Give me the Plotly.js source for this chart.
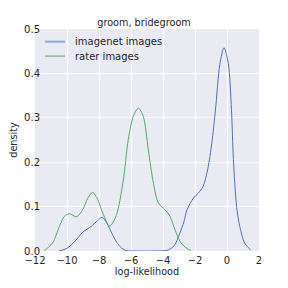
<!DOCTYPE html>
<html><head><meta charset="utf-8">
<script src="https://cdn.plot.ly/plotly-3.0.1.min.js"></script>
<style>html,body{margin:0;padding:0;background:#fff}#chart{width:288px;height:288px}</style>
</head><body><div id="chart"></div>
<script>
const imagenetX = [-10.5,-10.0,-9.5,-9.0,-8.5,-8.1,-7.8,-7.5,-7.2,-6.9,-6.6,-6.3,-5.5,-4.5,-3.7,-3.3,-2.95,-2.7,-2.5,-2.1,-1.8,-1.5,-1.2,-0.95,-0.72,-0.45,-0.19,0.08,0.28,0.4,0.6,0.8,1.1,1.48];
const imagenetY = [0,0.006,0.022,0.043,0.055,0.068,0.076,0.062,0.04,0.02,0.007,0.001,0,0,0.002,0.012,0.04,0.065,0.093,0.119,0.13,0.145,0.185,0.243,0.318,0.42,0.458,0.423,0.318,0.206,0.1,0.055,0.018,0.002];
const raterX = [-11.42,-10.9,-10.48,-10.17,-9.85,-9.4,-9.02,-8.7,-8.4,-8.08,-7.77,-7.33,-6.92,-6.5,-6.17,-5.86,-5.54,-5.23,-4.92,-4.6,-4.29,-3.875,-3.56,-3.25,-2.94,-2.6,-2.25];
const raterY = [0.001,0.018,0.055,0.078,0.084,0.077,0.093,0.119,0.132,0.116,0.086,0.056,0.08,0.155,0.251,0.303,0.322,0.303,0.228,0.153,0.108,0.093,0.078,0.048,0.022,0.008,0.001];
const seriesNames = ['imagenet images','rater images'];
const seriesColors = ['#4C72B0','#55A868'];
const titleText = 'groom, bridegroom';

const FF = 'DejaVu Sans';
const TXT = '#262626';
const traces = [
  {x:imagenetX, y:imagenetY, name:seriesNames[0], mode:'lines', line:{color:seriesColors[0], width:1, shape:'spline', smoothing:0.8}},
  {x:raterX, y:raterY, name:seriesNames[1], mode:'lines', line:{color:seriesColors[1], width:1, shape:'spline', smoothing:0.8}}
];
// legend drawn in paper coordinates (compact matplotlib-style)
const legY = [0.943, 0.878];
const shapes = seriesNames.map((n,i)=>({type:'line', xref:'paper', yref:'paper', x0:0.045, x1:0.134, y0:legY[i], y1:legY[i],
  line:{color: i===0 ? 'rgba(76,114,176,0.55)' : seriesColors[i], width: i===0 ? 2 : 1}}));
const annotations = seriesNames.map((n,i)=>({text:n, xref:'paper', yref:'paper', x:0.17, y:legY[i], xanchor:'left', yanchor:'middle', showarrow:false,
  font:{family:FF, size:10, color:TXT}}));
const layout = {
  width:288, height:288,
  margin:{l:35, r:29, t:29, b:37},
  paper_bgcolor:'#ffffff', plot_bgcolor:'#EAEAF2',
  font:{family:FF, size:10, color:TXT},
  title:{text:titleText, font:{family:FF, size:9.7, color:TXT}, x:0.5, xanchor:'center', y:0.92, yanchor:'middle'},
  xaxis:{range:[-12,2], dtick:2, tick0:0, showgrid:true, gridcolor:'#ffffff', gridwidth:1, zeroline:false, showline:false, ticks:'', ticklen:0,
    ticklabelstandoff:2,
    tickfont:{family:FF, size:10, color:TXT},
    title:{text:'log-likelihood', font:{family:FF, size:9.7, color:TXT}, standoff:2}},
  yaxis:{range:[0,0.5], dtick:0.1, tickformat:'.1f', showgrid:true, gridcolor:'#ffffff', gridwidth:1, zeroline:false, showline:false, ticks:'', ticklen:0,
    ticklabelstandoff:-6,
    tickfont:{family:FF, size:10, color:TXT},
    title:{text:'density', font:{family:FF, size:9.7, color:TXT}, standoff:4}},
  showlegend:false,
  shapes:shapes,
  annotations:annotations
};
Plotly.newPlot('chart', traces, layout, {displayModeBar:false, staticPlot:true});
</script></body></html>
